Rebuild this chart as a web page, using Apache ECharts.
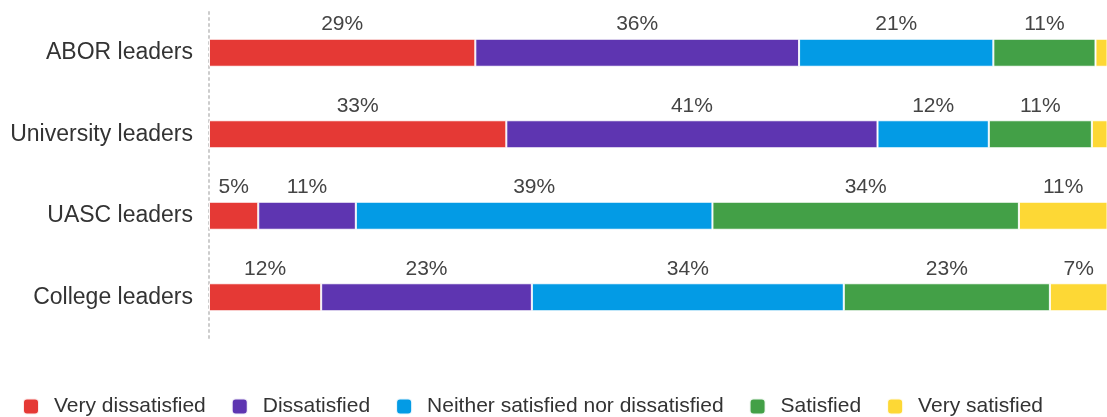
<!DOCTYPE html>
<html>
<head>
<meta charset="utf-8">
<script src="https://cdn.jsdelivr.net/npm/echarts@6/dist/echarts.min.js"></script>
<style>
html,body{margin:0;padding:0;background:#fff;}
#chart{width:1107px;height:417px;}
</style>
</head>
<body>
<div id="chart"></div>
<script>
var categories = ['ABOR leaders', 'University leaders', 'UASC leaders', 'College leaders'];
var seriesNames = ['Very dissatisfied', 'Dissatisfied', 'Neither satisfied nor dissatisfied', 'Satisfied', 'Very satisfied'];
// percentages (labels show them rounded)
var veryDissatisfied = [29.2, 32.6, 5.4, 12.3];
var dissatisfied = [35.5, 40.7, 10.7, 23.1];
var neither = [21.3, 12.2, 39.1, 34.2];
var satisfied = [11.2, 11.3, 33.6, 22.6];
var verySatisfied = [2.8, 3.2, 11.2, 7.0];
var colors = ['#e53935', '#5e35b1', '#039be5', '#43a047', '#fdd835'];
// visible part of the 0-100% scale (the right end of the chart is cropped)
var visibleMax = 98.46;

var dataSets = [veryDissatisfied, dissatisfied, neither, satisfied, verySatisfied];
var chart = echarts.init(document.getElementById('chart'), null, {renderer: 'canvas'});
var font = 'Liberation Sans, Arial, sans-serif';
var series = seriesNames.map(function (name, i) {
  return {
    name: name,
    type: 'bar',
    stack: 'total',
    barWidth: 28,
    clip: true,
    data: dataSets[i],
    itemStyle: {color: colors[i], borderColor: 'rgba(255,255,255,0.9)', borderWidth: 1},
    label: {
      show: true,
      position: 'top',
      distance: 4,
      color: '#444',
      fontFamily: font,
      fontSize: 21,
      formatter: function (p) { return p.value >= 4 ? Math.round(p.value) + '%' : ''; }
    },
    emphasis: {disabled: true}
  };
});

chart.setOption({
  animation: false,
  color: colors,
  grid: {left: 209, right: 0, top: 12, height: 326, containLabel: false},
  xAxis: {
    type: 'value',
    min: 0,
    max: visibleMax,
    show: false
  },
  yAxis: {
    type: 'category',
    data: categories,
    inverse: true,
    axisTick: {show: false},
    axisLine: {show: true, lineStyle: {color: '#cccccc', type: [2, 4], width: 2}},
    axisLabel: {color: '#333', fontFamily: font, fontSize: 23, margin: 16}
  },
  legend: {
    left: 22,
    top: 396,
    itemWidth: 16,
    itemHeight: 16,
    itemGap: 25,
    icon: 'roundRect',
    padding: 0,
    textStyle: {color: '#333', fontFamily: font, fontSize: 21, padding: [0, 0, 0, 10]},
    data: seriesNames
  },
  series: series
});
</script>
</body>
</html>
